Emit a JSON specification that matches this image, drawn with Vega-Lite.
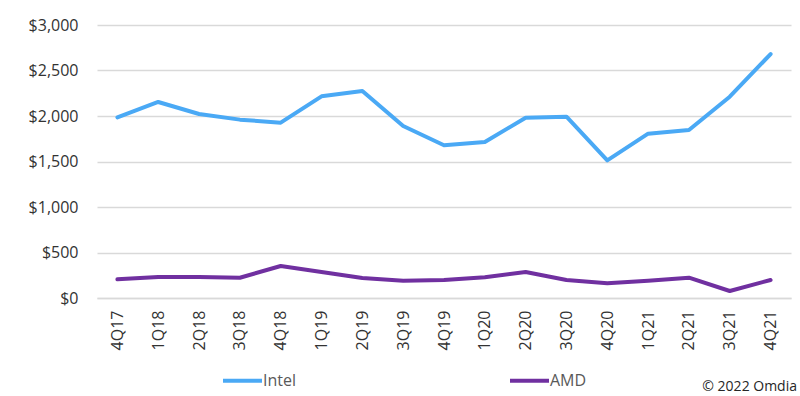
{
  "$schema": "https://vega.github.io/schema/vega-lite/v6.json",
  "width": 694,
  "height": 273,
  "autosize": {"type": "none"},
  "padding": {"left": 97, "top": 25, "right": 9, "bottom": 98},
  "background": "white",
  "config": {
    "font": "Open Sans",
    "view": {"stroke": null}
  },
  "title": {
    "text": "© 2022 Omdia",
    "orient": "bottom",
    "anchor": "end",
    "frame": "group",
    "fontSize": 14,
    "fontWeight": "normal",
    "color": "#262626",
    "offset": 0,
    "dx": 6,
    "dy": -9
  },
  "data": {
    "values": [
      {"quarter": "4Q17", "company": "Intel", "revenue": 1985},
      {"quarter": "1Q18", "company": "Intel", "revenue": 2154},
      {"quarter": "2Q18", "company": "Intel", "revenue": 2022},
      {"quarter": "3Q18", "company": "Intel", "revenue": 1960},
      {"quarter": "4Q18", "company": "Intel", "revenue": 1927},
      {"quarter": "1Q19", "company": "Intel", "revenue": 2216},
      {"quarter": "2Q19", "company": "Intel", "revenue": 2275},
      {"quarter": "3Q19", "company": "Intel", "revenue": 1890},
      {"quarter": "4Q19", "company": "Intel", "revenue": 1678},
      {"quarter": "1Q20", "company": "Intel", "revenue": 1714},
      {"quarter": "2Q20", "company": "Intel", "revenue": 1981},
      {"quarter": "3Q20", "company": "Intel", "revenue": 1992},
      {"quarter": "4Q20", "company": "Intel", "revenue": 1513},
      {"quarter": "1Q21", "company": "Intel", "revenue": 1806},
      {"quarter": "2Q21", "company": "Intel", "revenue": 1846},
      {"quarter": "3Q21", "company": "Intel", "revenue": 2212},
      {"quarter": "4Q21", "company": "Intel", "revenue": 2681},
      {"quarter": "4Q17", "company": "AMD", "revenue": 205},
      {"quarter": "1Q18", "company": "AMD", "revenue": 231},
      {"quarter": "2Q18", "company": "AMD", "revenue": 231},
      {"quarter": "3Q18", "company": "AMD", "revenue": 223},
      {"quarter": "4Q18", "company": "AMD", "revenue": 352},
      {"quarter": "1Q19", "company": "AMD", "revenue": 286},
      {"quarter": "2Q19", "company": "AMD", "revenue": 220},
      {"quarter": "3Q19", "company": "AMD", "revenue": 190},
      {"quarter": "4Q19", "company": "AMD", "revenue": 198},
      {"quarter": "1Q20", "company": "AMD", "revenue": 227},
      {"quarter": "2Q20", "company": "AMD", "revenue": 286},
      {"quarter": "3Q20", "company": "AMD", "revenue": 198},
      {"quarter": "4Q20", "company": "AMD", "revenue": 161},
      {"quarter": "1Q21", "company": "AMD", "revenue": 190},
      {"quarter": "2Q21", "company": "AMD", "revenue": 223},
      {"quarter": "3Q21", "company": "AMD", "revenue": 77},
      {"quarter": "4Q21", "company": "AMD", "revenue": 198}
    ]
  },
  "mark": {"type": "line", "strokeWidth": 4, "strokeJoin": "round", "strokeCap": "round"},
  "encoding": {
    "x": {
      "field": "quarter",
      "type": "ordinal",
      "sort": null,
      "scale": {"type": "point", "padding": 0.5},
      "axis": {
        "title": null,
        "labelAngle": -90,
        "labelAlign": "right",
        "labelBaseline": "middle",
        "labelFontSize": 16,
        "labelColor": "#333333",
        "labelPadding": 12,
        "ticks": false,
        "domainColor": "#d9d9d9",
        "domainWidth": 1.5,
        "grid": false
      }
    },
    "y": {
      "field": "revenue",
      "type": "quantitative",
      "scale": {"domain": [0, 3000], "nice": false},
      "axis": {
        "title": null,
        "values": [0, 500, 1000, 1500, 2000, 2500, 3000],
        "format": "$,.0f",
        "labelFontSize": 16,
        "labelColor": "#333333",
        "labelPadding": 19,
        "ticks": false,
        "domain": false,
        "gridColor": "#d9d9d9",
        "gridWidth": 1.5
      }
    },
    "color": {
      "field": "company",
      "type": "nominal",
      "scale": {"domain": ["Intel", "AMD"], "range": ["#4aa9f5", "#7030a0"]},
      "legend": {
        "title": null,
        "orient": "none",
        "legendX": 124,
        "legendY": 334,
        "direction": "horizontal",
        "columns": 2,
        "columnPadding": 205,
        "symbolType": "stroke",
        "symbolSize": 1521,
        "symbolStrokeWidth": 4,
        "labelOffset": -1,
        "labelFontSize": 16,
        "labelColor": "#595959",
        "padding": 0
      }
    }
  }
}
